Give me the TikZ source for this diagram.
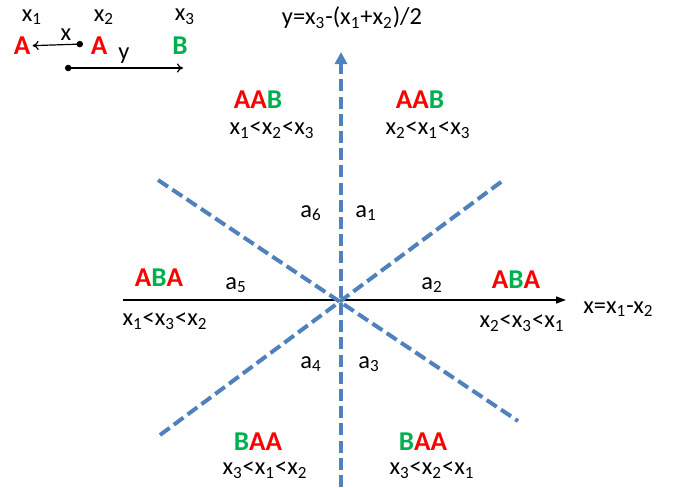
\documentclass[tikz,border=0pt]{standalone}
\usepackage{fontspec}
\setmainfont{Carlito}
\usetikzlibrary{arrows.meta}
\definecolor{axblue}{HTML}{4F81BD}
\definecolor{lblred}{HTML}{FF0000}
\definecolor{lblgreen}{HTML}{00B050}
\newcommand{\pA}{\textcolor{lblred}{A}}
\newcommand{\pB}{\textcolor{lblgreen}{B}}
\newcommand{\xs}[1]{x\textsubscript{#1}}

\begin{document}
\begin{tikzpicture}[
      x=0.5pt,y=-0.5pt,
      cfg/.style={font=\fontsize{13.6}{15}\selectfont\bfseries,inner sep=1pt},
      ord/.style={font=\fontsize{12.2}{14}\selectfont,inner sep=1pt},
      dashln/.style={axblue,line width=2pt,dash pattern=on 6pt off 2.6pt},
      axline/.style={black,line width=0.75pt,-{Triangle[length=5pt,width=3.5pt]}},
      legarr/.style={black,line width=0.6pt,{Circle[length=3.2pt]}-{To[length=3pt,width=4.5pt]}},
    ]
    \useasboundingbox (0,0) rectangle (684,487);
    % legend
    \node[ord] (lx1) at (32,17) {\xs{1}};
    \node[ord] (lx2) at (104,17) {\xs{2}};
    \node[ord] (lx3) at (185,17) {\xs{3}};
    \node[cfg] (lA1) at (22,46) {\pA};
    \node[cfg] (lA2) at (99,46) {\pA};
    \node[cfg] (lB3) at (180,46) {\pB};
    \coordinate (xdot) at (83,44);
    \coordinate (ydot) at (65,68);
    \coordinate (yend) at (183,68);
    \draw[legarr] (xdot) -- (lA1);
    \draw[legarr] (ydot) -- (yend);
    \node[ord] (lxx) at (66,35) {x};
    \node[ord] (lyy) at (124,56) {y};
    % axes
    \coordinate (O) at (341,300);
    \coordinate (xl) at (123,300);
    \coordinate (xr) at (566,300);
    \coordinate (yb) at (341,487);
    \coordinate (yt) at (341,52);
    \coordinate (d1a) at (158,180);
    \coordinate (d1b) at (518,421);
    \coordinate (d2a) at (160,435);
    \coordinate (d2b) at (505,179);
    \draw[axline] (xl) -- (xr);
    \draw[dashln] (d1a) -- (d1b);
    \draw[dashln] (d2a) -- (d2b);
    \draw[dashln,-{Triangle[length=6pt,width=6pt]}] (yb) -- (yt);
    \node[ord] (yname) at (352,18) {y=\xs{3}-(\xs{1}+\xs{2})/2};
    \node[ord,anchor=west] (xname) at (581,309) {x=\xs{1}-\xs{2}};
    % sectors
    \foreach \i/\px/\py in {1/366/213, 2/432/285, 3/369/364, 4/311/364, 5/236/285, 6/311/213}{
      \node[ord] (a\i) at (\px,\py) {a\textsubscript{\i}};
    }
    % orderings
    \node[cfg] (cAAB1) at (258,100) {\pA\pA\pB};
    \node[ord] (oAAB1) at (272,130) {\xs{1}<\xs{2}<\xs{3}};
    \node[cfg] (cAAB2) at (420,100) {\pA\pA\pB};
    \node[ord] (oAAB2) at (428,130) {\xs{2}<\xs{1}<\xs{3}};
    \node[cfg] (cABA1) at (159,278) {\pA\pB\pA};
    \node[ord] (oABA1) at (165,321) {\xs{1}<\xs{3}<\xs{2}};
    \node[cfg] (cABA2) at (516,280) {\pA\pB\pA};
    \node[ord] (oABA2) at (522,323) {\xs{2}<\xs{3}<\xs{1}};
    \node[cfg] (cBAA1) at (258,442) {\pB\pA\pA};
    \node[ord] (oBAA1) at (265,470) {\xs{3}<\xs{1}<\xs{2}};
    \node[cfg] (cBAA2) at (423,442) {\pB\pA\pA};
    \node[ord] (oBAA2) at (432,470) {\xs{3}<\xs{2}<\xs{1}};
  \end{tikzpicture}
\end{document}
